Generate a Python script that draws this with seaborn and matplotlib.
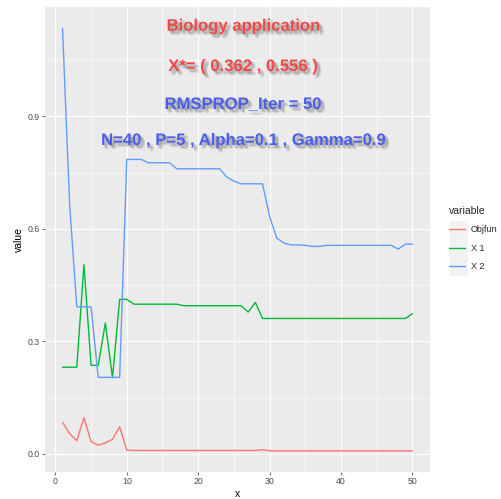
import numpy as np
import pandas as pd
import matplotlib
matplotlib.use("Agg")
import matplotlib.pyplot as plt
import matplotlib.patheffects as pe
from matplotlib.patches import Rectangle
from matplotlib.ticker import FixedLocator
import seaborn as sns

# ---- data -----------------------------------------------------------------
iterations = list(range(1, 51))

objfun = [0.084, 0.054, 0.035, 0.096, 0.033, 0.023, 0.029, 0.039, 0.072, 0.010,
          0.009, 0.009, 0.009, 0.009, 0.009, 0.009, 0.009, 0.009, 0.009, 0.009,
          0.009, 0.009, 0.009, 0.009, 0.009, 0.009, 0.009, 0.009, 0.011, 0.008,
          0.008, 0.008, 0.008, 0.008, 0.008, 0.008, 0.008, 0.008, 0.008, 0.008,
          0.008, 0.008, 0.008, 0.008, 0.008, 0.008, 0.008, 0.008, 0.008, 0.008]

x1 = [0.231, 0.231, 0.231, 0.504, 0.236, 0.236, 0.349, 0.203, 0.412, 0.412,
      0.399, 0.399, 0.399, 0.399, 0.399, 0.399, 0.399, 0.395, 0.395, 0.395,
      0.395, 0.395, 0.395, 0.395, 0.395, 0.395, 0.378, 0.404, 0.361, 0.361,
      0.361, 0.361, 0.361, 0.361, 0.361, 0.361, 0.361, 0.361, 0.361, 0.361,
      0.361, 0.361, 0.361, 0.361, 0.361, 0.361, 0.361, 0.361, 0.361, 0.374]

x2 = [1.135, 0.664, 0.392, 0.392, 0.392, 0.204, 0.204, 0.204, 0.204, 0.785,
      0.785, 0.785, 0.776, 0.776, 0.776, 0.776, 0.760, 0.760, 0.760, 0.760,
      0.760, 0.760, 0.760, 0.738, 0.727, 0.720, 0.720, 0.720, 0.720, 0.633,
      0.575, 0.562, 0.557, 0.557, 0.556, 0.553, 0.553, 0.556, 0.556, 0.556,
      0.556, 0.556, 0.556, 0.556, 0.556, 0.556, 0.556, 0.546, 0.559, 0.559]

series_names = ["Objfun", "X 1", "X 2"]
series_colors = ["#F8766D", "#00BA38", "#619CFF"]

y_ticks = [0.0, 0.3, 0.6, 0.9]
y_tick_labels = ["0.0", "0.3", "0.6", "0.9"]
x_ticks = [0, 10, 20, 30, 40, 50]
x_tick_labels = ["0", "10", "20", "30", "40", "50"]

header_lines = ["Biology application",
                "X*= ( 0.362 , 0.556 )",
                "RMSPROP_Iter = 50",
                "N=40 , P=5 , Alpha=0.1 , Gamma=0.9"]
header_colors = ["#F24848", "#F24848", "#4A5DEE", "#4A5DEE"]

df = pd.DataFrame({
    "x": iterations * 3,
    "value": objfun + x1 + x2,
    "variable": np.repeat(series_names, len(iterations)),
})

# ---- style ----------------------------------------------------------------
sns.set_theme(style="darkgrid")
plt.rcParams["font.family"] = ["Liberation Sans", "DejaVu Sans"]

W, H = 502, 499
fig = plt.figure(figsize=(W / 100, H / 100), dpi=100)
fig.patch.set_facecolor("white")
# panel: left 45px, right 430px, top 7px, bottom 472px
ax = fig.add_axes([45 / W, (H - 472) / H, 385 / W, 465 / H])
ax.set_facecolor("#EBEBEB")

sns.lineplot(data=df, x="x", y="value", hue="variable",
             hue_order=series_names, palette=series_colors,
             linewidth=1.0, ax=ax, legend=True)

ax.margins(x=0.05, y=0.05)

ax.xaxis.set_major_locator(FixedLocator(x_ticks))
ax.set_xticklabels(x_tick_labels)
ax.yaxis.set_major_locator(FixedLocator(y_ticks))
ax.set_yticklabels(y_tick_labels)
ax.xaxis.set_minor_locator(FixedLocator([5, 15, 25, 35, 45]))
ax.yaxis.set_minor_locator(FixedLocator([0.15, 0.45, 0.75, 1.05]))

ax.grid(which="major", color="white", linewidth=0.8)
ax.grid(which="minor", color="white", linewidth=0.4)
ax.set_axisbelow(True)
for s in ax.spines.values():
    s.set_visible(False)

ax.tick_params(which="major", length=2, width=0.5, color="#333333",
               labelsize=6.3, labelcolor="#4D4D4D", pad=1.5,
               bottom=True, left=True)
ax.tick_params(which="minor", length=0)

ax.set_xlabel("x", fontsize=7.5, color="black")
ax.set_ylabel("value", fontsize=7.5, color="black")
ax.xaxis.label.set_va("center")
ax.xaxis.set_label_coords(0.5, (472 - 494) / 465)
ax.yaxis.set_label_coords((24 - 45) / 385, 0.5)

# ---- header annotations with soft drop shadow ------------------------------
shadow = [pe.SimplePatchShadow(offset=off, shadow_rgbFace="#555555", alpha=0.10)
          for off in [(1, -1), (2, -2), (2, -1), (1, -2), (3, -3), (2, -3), (3, -2)]]
shadow.append(pe.Normal())
baselines_px = [30.7, 71, 109, 145]
for text, color, base in zip(header_lines, header_colors, baselines_px):
    ax.text(0.514, (472 - base) / 465, text, transform=ax.transAxes,
            ha="center", va="baseline", fontsize=12, fontweight="bold",
            color=color, path_effects=shadow, zorder=6)

# ---- legend ----------------------------------------------------------------
handles, labels = ax.get_legend_handles_labels()
ax.get_legend().remove()
leg = ax.legend(handles, labels, title="variable",
                loc="upper left", bbox_to_anchor=(449 / W, 1 - 206 / H),
                bbox_transform=fig.transFigure, frameon=False,
                fontsize=6.5, title_fontsize=7.5, borderpad=0, borderaxespad=0,
                handlelength=1.75, handletextpad=0.7, labelspacing=1.05,
                alignment="left")
for line in leg.get_lines():
    line.set_linewidth(1.0)

fig.add_artist(Rectangle((450 / W, 1 - 276 / H), 18 / W, 55 / H,
                         transform=fig.transFigure, facecolor="#F2F2F2",
                         edgecolor="none", zorder=-1))

fig.savefig("out.png", dpi=100)
